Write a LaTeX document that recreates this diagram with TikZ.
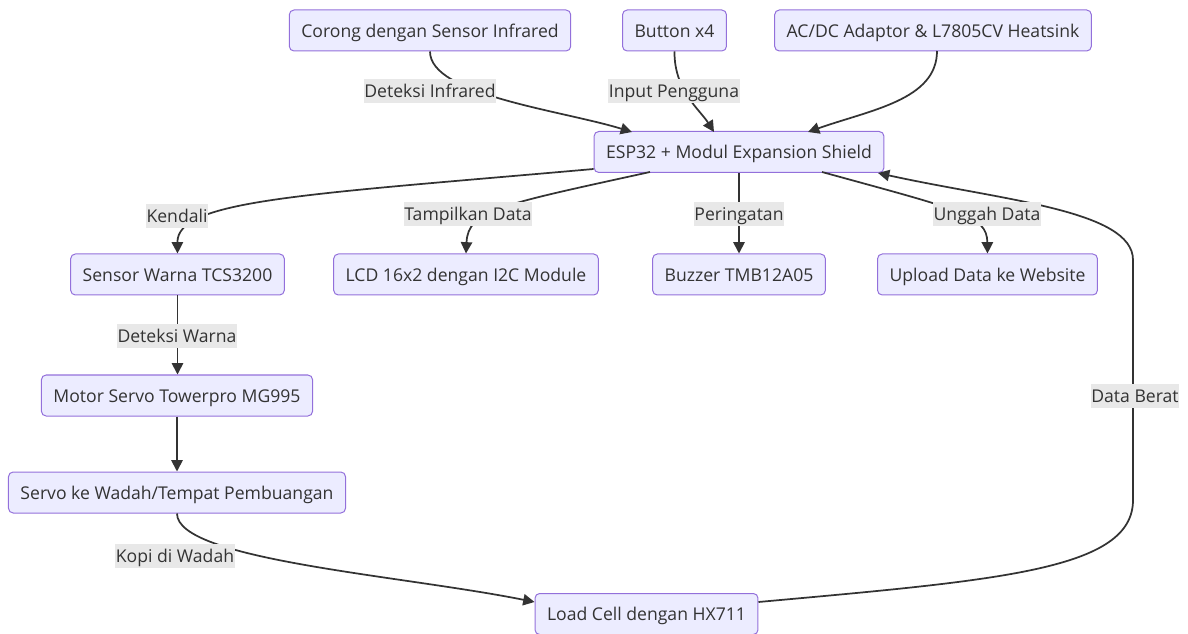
\documentclass[tikz,border=0pt]{standalone}
\usepackage{fontspec}
\setmainfont{Open Sans}
\usetikzlibrary{arrows.meta}
\definecolor{boxfill}{HTML}{ECECFF}
\definecolor{boxline}{HTML}{9370DB}
\definecolor{ink}{HTML}{333333}
\definecolor{lblfill}{HTML}{E8E8E8}
\tikzset{
  box/.style={draw=boxline, fill=boxfill, rounded corners=3.5pt, line width=0.75pt,
    minimum height=30.75pt, inner xsep=9pt, text height=11.5pt, text depth=1.3pt,
    text=ink, font=\fontsize{13.2}{15}\selectfont},
  lbl/.style={fill=lblfill, inner xsep=0.5pt, inner ysep=0pt, minimum height=17.5pt,
    text height=11.5pt, text depth=1.3pt, text=ink, font=\fontsize{13.2}{15}\selectfont},
  arr/.style={draw=ink, line width=1.3pt, -{Triangle[length=8.5pt,width=8.5pt]}}
}
\begin{document}
\begin{tikzpicture}[x=0.75pt, y=-0.75pt]
  \useasboundingbox (0,0) rectangle (1188,634);

  % kotak-kotak
  \node[box] (corong) at (430,30.5) {Corong dengan Sensor Infrared};
  \node[box] (button) at (674.5,30.5) {Button x4};
  \node[box] (adaptor) at (933,30.5) {AC/DC Adaptor \& L7805CV Heatsink};
  \node[box] (esp) at (739,152) {ESP32 + Modul Expansion Shield};
  \node[box] (sensor) at (177.5,274.5) {Sensor Warna TCS3200};
  \node[box] (lcd) at (466,274.5) {LCD 16x2 dengan I2C Module};
  \node[box] (buzzer) at (739,274.5) {Buzzer TMB12A05};
  \node[box] (upload) at (987.5,274.5) {Upload Data ke Website};
  \node[box] (motor) at (177,395.5) {Motor Servo Towerpro MG995};
  \node[box] (servo) at (177,492.5) {Servo ke Wadah/Tempat Pembuangan};
  \node[box] (load) at (646.5,614) {Load Cell dengan HX711};

  % panah
  \draw[arr] (corong.south) .. controls (430,95) and (560,110) .. (632,132);
  \draw[arr] (button.south) .. controls (674,90) and (700,110) .. (714,132);
  \draw[arr] (937,51) .. controls (937,100) and (870,110) .. (808,132);
  \draw[arr] ([yshift=3pt]esp.south west) .. controls (300,195) and (177,200) .. (sensor.north);
  \draw[arr] (650,172) .. controls (500,205) and (468,210) .. (lcd.north);
  \draw[arr] (esp.south) -- (buzzer.north);
  \draw[arr] (822,172) .. controls (960,210) and (987,215) .. (upload.north);
  \draw[arr] (sensor.south) -- (sensor.south |- motor.north);
  \draw[arr] (motor.south) -- (motor.south |- servo.north);
  \draw[arr] (servo.south) .. controls (177,560) and (400,575) .. (load.west |- 0,602);
  \draw[arr] (load.east |- 0,602) .. controls (1000,580) and (1133,570) .. (1133,500)
    -- (1133,260) .. controls (1133,210) and (1000,200) .. (878,173);

  % label
  \node[lbl] (lInfra) at (430,91) {Deteksi Infrared};
  \node[lbl] (lInput) at (674,91) {Input Pengguna};
  \node[lbl] (lKendali) at (177,216) {Kendali};
  \node[lbl] (lTampil) at (468,214) {Tampilkan Data};
  \node[lbl] (lPeringatan) at (739,214) {Peringatan};
  \node[lbl] (lUnggah) at (987,214) {Unggah Data};
  \node[lbl] (lWarna) at (177,336) {Deteksi Warna};
  \node[lbl] (lKopi) at (175,556) {Kopi di Wadah};
  \node[lbl] (lBerat) at (1135,396) {Data Berat};
\end{tikzpicture}
\end{document}
